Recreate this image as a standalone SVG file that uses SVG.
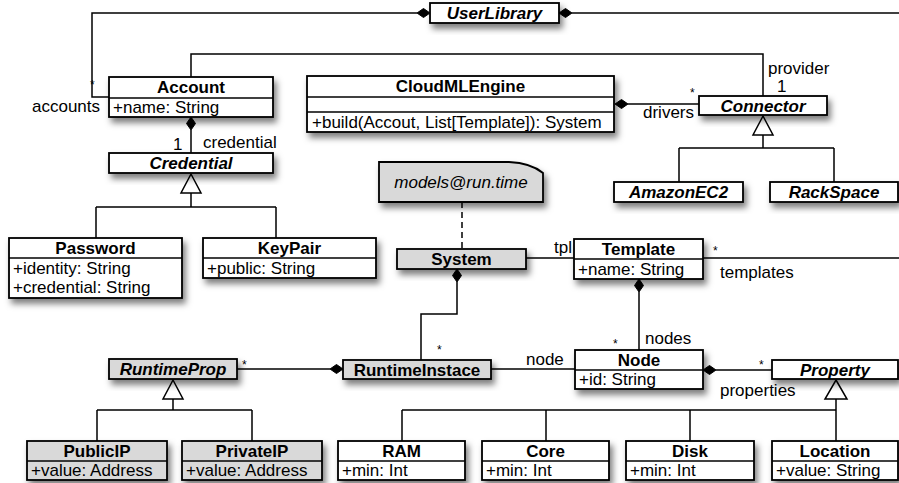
<svg xmlns="http://www.w3.org/2000/svg" width="899" height="483" viewBox="0 0 899 483">
  <defs>
    <filter id="shadow" x="-20%" y="-40%" width="150%" height="200%">
      <feDropShadow dx="3" dy="5" stdDeviation="3" flood-color="#000" flood-opacity="0.5"/>
    </filter>
  </defs>
  <style>
    text { font-family: "Liberation Sans", Arial, sans-serif; font-size: 17px; fill: #000; }
    .box { fill: #fff; stroke: #000; stroke-width: 1.8; filter: url(#shadow); }
    .grey { fill: #d9d9d9; }
    .sep { stroke: #000; stroke-width: 1.6; fill: none; }
    .title { font-weight: bold; text-anchor: middle; }
    .abstract { font-weight: bold; font-style: italic; text-anchor: middle; }
    .note { font-style: italic; text-anchor: middle; }
    .star { font-size: 12px; }
    .end { text-anchor: end; }
    .line { stroke: #000; stroke-width: 1.5; fill: none; }
    .dash { stroke: #000; stroke-width: 1.5; fill: none; stroke-dasharray: 6 4; }
    .diamond { fill: #000; stroke: #000; stroke-width: 1; }
    .tri { fill: #fff; stroke: #000; stroke-width: 1.5; }
  </style>

  <!-- connectors -->
  <g id="connectors">
    <!-- UserLibrary -> accounts -->
    <path class="line" d="M417,13 H92 V97 H109"/>
    <path class="diamond" d="M430,13 L423.5,8.5 L417,13 L423.5,17.5 Z"/>
    <!-- UserLibrary -> templates (continues past the right edge) -->
    <path class="line" d="M572,13 H899"/>
    <path class="diamond" d="M559,13 L565.5,8.5 L572,13 L565.5,17.5 Z"/>
    <!-- Account -> Connector (provider) -->
    <path class="line" d="M191,77 V54 H763 V96"/>
    <!-- Account <>- Credential -->
    <path class="line" d="M191,130 V153"/>
    <path class="diamond" d="M191,117 L195.5,123.5 L191,130 L186.5,123.5 Z"/>
    <!-- Credential generalization -->
    <path class="line" d="M191,193 V207 M96,207 H276 M96,207 V238 M276,207 V238"/>
    <path class="tri" d="M191,174 L201,193 L181,193 Z"/>
    <!-- CloudMLEngine <>- Connector (drivers) -->
    <path class="line" d="M628,104 H699"/>
    <path class="diamond" d="M615,104 L621.5,99.5 L628,104 L621.5,108.5 Z"/>
    <!-- Connector generalization -->
    <path class="line" d="M763,135 V148 M679,148 H834 M679,148 V182 M834,148 V182"/>
    <path class="tri" d="M763,116 L773,135 L753,135 Z"/>
    <!-- note anchor -->
    <path class="dash" d="M462,202 V249"/>
    <!-- System - Template (tpl) -->
    <path class="line" d="M526,258 H574"/>
    <!-- Template -> templates (continues past the right edge) -->
    <path class="line" d="M703,258 H899"/>
    <!-- System <>- RuntimeInstace -->
    <path class="line" d="M457,282 V314 H421 V360"/>
    <path class="diamond" d="M457,269 L461.5,275.5 L457,282 L452.5,275.5 Z"/>
    <!-- Template <>- Node -->
    <path class="line" d="M639,292 V350"/>
    <path class="diamond" d="M639,279 L643.5,285.5 L639,292 L634.5,285.5 Z"/>
    <!-- RuntimeInstace - Node -->
    <path class="line" d="M491,369 H575"/>
    <!-- RuntimeInstace <>- RuntimeProp -->
    <path class="line" d="M237,369 H330"/>
    <path class="diamond" d="M343,369 L336.5,364.5 L330,369 L336.5,373.5 Z"/>
    <!-- Node <>- Property -->
    <path class="line" d="M716,370 H772"/>
    <path class="diamond" d="M703,370 L709.5,365.5 L716,370 L709.5,374.5 Z"/>
    <!-- RuntimeProp generalization -->
    <path class="line" d="M173,399 V410 M97,410 H252 M97,410 V441 M252,410 V441"/>
    <path class="tri" d="M173,380 L183,399 L163,399 Z"/>
    <!-- Property generalization -->
    <path class="line" d="M836,399 V441 M402,410 H836 M402,410 V441 M546,410 V441 M690,410 V441"/>
    <path class="tri" d="M836,380 L847,399 L825,399 Z"/>
  </g>

  <!-- role names and multiplicities -->
  <g id="labels">
    <text class="star" x="90" y="89">*</text>
    <text x="32" y="112">accounts</text>
    <text x="173" y="150">1</text>
    <text x="203" y="148">credential</text>
    <text x="768" y="74">provider</text>
    <text x="777" y="92">1</text>
    <text class="star" x="690" y="97">*</text>
    <text class="end" x="694" y="118">drivers</text>
    <text class="end" x="572" y="253">tpl</text>
    <text class="star" x="713" y="255">*</text>
    <text x="720" y="278">templates</text>
    <text class="star" x="613" y="348">*</text>
    <text x="645" y="344">nodes</text>
    <text x="526" y="365">node</text>
    <text class="star" x="759" y="369">*</text>
    <text x="720" y="396">properties</text>
    <text class="star" x="242" y="369">*</text>
    <text class="star" x="437" y="354">*</text>
  </g>

  <g id="UserLibrary">
    <rect class="box" x="430" y="3" width="129" height="20"/>
    <text class="abstract" x="494.5" y="19">UserLibrary</text>
  </g>

  <g id="Account">
    <rect class="box" x="109" y="77" width="164" height="40"/>
    <line class="sep" x1="109" y1="98" x2="273" y2="98"/>
    <text class="title" x="191" y="93">Account</text>
    <text x="113" y="113">+name: String</text>
  </g>

  <g id="CloudMLEngine">
    <rect class="box" x="307" y="76" width="307" height="56"/>
    <line class="sep" x1="307" y1="97" x2="614" y2="97"/>
    <line class="sep" x1="307" y1="112" x2="614" y2="112"/>
    <text class="title" x="460.5" y="92">CloudMLEngine</text>
    <text x="312" y="128">+build(Accout, List[Template]): System</text>
  </g>

  <g id="Connector">
    <rect class="box" x="699" y="96" width="128" height="19"/>
    <text class="abstract" x="763" y="111.5">Connector</text>
  </g>

  <g id="Credential">
    <rect class="box" x="109" y="153" width="164" height="20"/>
    <text class="abstract" x="191" y="169">Credential</text>
  </g>

  <g id="Password">
    <rect class="box" x="9" y="238" width="173" height="60"/>
    <line class="sep" x1="9" y1="258" x2="182" y2="258"/>
    <text class="title" x="95.5" y="254">Password</text>
    <text x="13" y="273.5">+identity: String</text>
    <text x="13" y="293">+credential: String</text>
  </g>

  <g id="KeyPair">
    <rect class="box" x="203" y="238" width="173" height="40"/>
    <line class="sep" x1="203" y1="258" x2="376" y2="258"/>
    <text class="title" x="289.5" y="254">KeyPair</text>
    <text x="207" y="273.5">+public: String</text>
  </g>

  <g id="AmazonEC2">
    <rect class="box" x="614" y="182" width="129" height="20"/>
    <text class="abstract" x="678.5" y="198">AmazonEC2</text>
  </g>

  <g id="RackSpace">
    <rect class="box" x="770" y="182" width="128" height="20"/>
    <text class="abstract" x="834" y="198">RackSpace</text>
  </g>

  <g id="ModelsAtRuntime">
    <path class="box grey" d="M379,162 H509 Q531,163 543,173 V202 H379 Z"/>
    <text class="note" x="461" y="188">models@run.time</text>
  </g>

  <g id="System">
    <rect class="box grey" x="397" y="249" width="129" height="20"/>
    <text class="title" x="461.5" y="265">System</text>
  </g>

  <g id="Template">
    <rect class="box" x="574" y="239" width="129" height="40"/>
    <line class="sep" x1="574" y1="259" x2="703" y2="259"/>
    <text class="title" x="638.5" y="255">Template</text>
    <text x="578" y="274.5">+name: String</text>
  </g>

  <g id="RuntimeProp">
    <rect class="box grey" x="109" y="359" width="128" height="20"/>
    <text class="abstract" x="173" y="375">RuntimeProp</text>
  </g>

  <g id="RuntimeInstace">
    <rect class="box grey" x="343" y="360" width="148" height="19"/>
    <text class="title" x="417" y="375.5">RuntimeInstace</text>
  </g>

  <g id="Node">
    <rect class="box" x="575" y="350" width="128" height="39"/>
    <line class="sep" x1="575" y1="370" x2="703" y2="370"/>
    <text class="title" x="639" y="366">Node</text>
    <text x="579" y="385">+id: String</text>
  </g>

  <g id="Property">
    <rect class="box" x="772" y="360" width="126" height="19"/>
    <text class="abstract" x="835" y="375.5">Property</text>
  </g>

  <g id="PublicIP">
    <rect class="box grey" x="27" y="441" width="140" height="39"/>
    <line class="sep" x1="27" y1="461" x2="167" y2="461"/>
    <text class="title" x="97" y="457">PublicIP</text>
    <text x="31" y="476">+value: Address</text>
  </g>

  <g id="PrivateIP">
    <rect class="box grey" x="182" y="441" width="140" height="39"/>
    <line class="sep" x1="182" y1="461" x2="322" y2="461"/>
    <text class="title" x="252" y="457">PrivateIP</text>
    <text x="186" y="476">+value: Address</text>
  </g>

  <g id="RAM">
    <rect class="box" x="338" y="441" width="127" height="39"/>
    <line class="sep" x1="338" y1="461" x2="465" y2="461"/>
    <text class="title" x="401.5" y="457">RAM</text>
    <text x="342" y="476">+min: Int</text>
  </g>

  <g id="Core">
    <rect class="box" x="482" y="441" width="127" height="39"/>
    <line class="sep" x1="482" y1="461" x2="609" y2="461"/>
    <text class="title" x="545.5" y="457">Core</text>
    <text x="486" y="476">+min: Int</text>
  </g>

  <g id="Disk">
    <rect class="box" x="626" y="441" width="128" height="39"/>
    <line class="sep" x1="626" y1="461" x2="754" y2="461"/>
    <text class="title" x="690" y="457">Disk</text>
    <text x="630" y="476">+min: Int</text>
  </g>

  <g id="Location">
    <rect class="box" x="772" y="441" width="126" height="39"/>
    <line class="sep" x1="772" y1="461" x2="898" y2="461"/>
    <text class="title" x="835" y="457">Location</text>
    <text x="776" y="476">+value: String</text>
  </g>
</svg>
